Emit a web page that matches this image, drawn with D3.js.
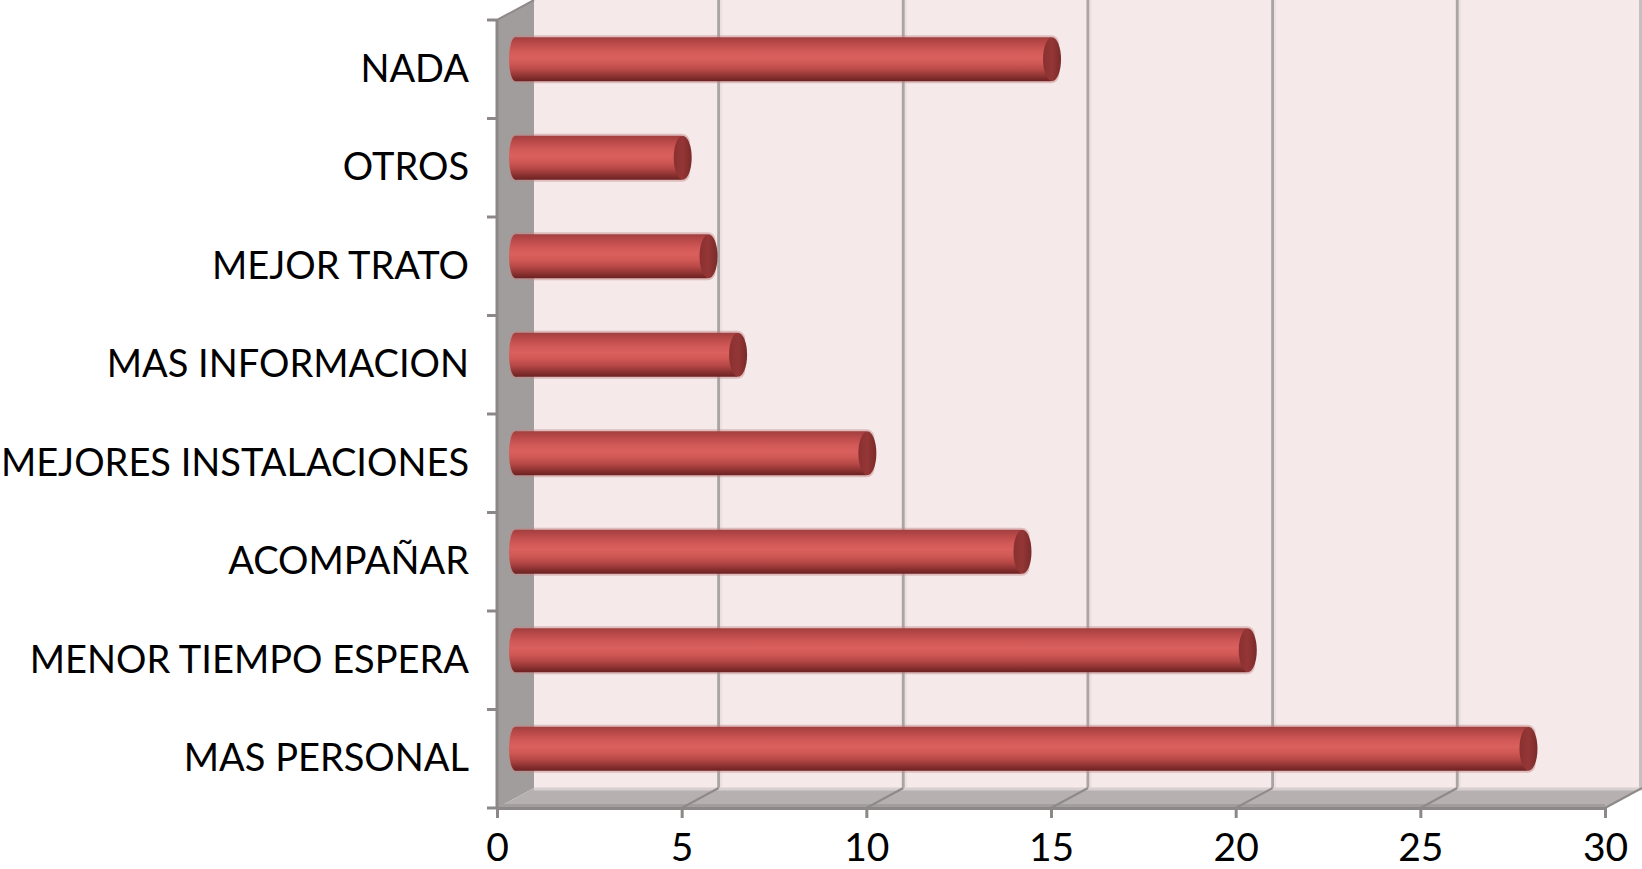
<!DOCTYPE html>
<html>
<head>
<meta charset="utf-8">
<script src="https://cdn.jsdelivr.net/npm/d3@7"></script>
<style>
  html, body { margin: 0; padding: 0; background: #ffffff; }
  svg { display: block; }
  text { font-family: Lato, "Open Sans", sans-serif; fill: #000; }
</style>
</head>
<body>
<svg id="chart" width="1642" height="869"></svg>
<script>
// ---- data ----
const categories = ["NADA", "OTROS", "MEJOR TRATO", "MAS INFORMACION",
  "MEJORES INSTALACIONES", "ACOMPAÑAR", "MENOR TIEMPO ESPERA", "MAS PERSONAL"];
const values = [14.5, 4.5, 5.2, 6.0, 9.5, 13.7, 19.8, 27.4];
const xTicks = [0, 5, 10, 15, 20, 25, 30];

// ---- layout ----
const DX = 37, DY = -20;           // 3D depth offset (front -> back)
const pLeft = 497, pRight = 1605, pTop = 20, pBottom = 808;

const svg = d3.select("#chart");
const x = d3.scaleLinear().domain([0, 30]).range([pLeft, pRight]);
const y = d3.scaleBand().domain(categories).range([pTop, pBottom]).padding(0);

const defs = svg.append("defs");
const grad = defs.append("linearGradient").attr("id", "cyl")
  .attr("x1", 0).attr("y1", 0).attr("x2", 0).attr("y2", 1);
[[0, "#a13f3f"], [0.12, "#b84848"], [0.3, "#d05856"], [0.45, "#d9605d"],
 [0.6, "#cf5754"], [0.75, "#b44745"], [0.88, "#8e3333"], [1, "#6c2121"]]
  .forEach(([o, c]) => grad.append("stop").attr("offset", o).attr("stop-color", c));
const capGrad = defs.append("linearGradient").attr("id", "cap")
  .attr("x1", 0).attr("y1", 0).attr("x2", 1).attr("y2", 0);
[[0, "#8a3030"], [0.5, "#943636"], [1, "#7a2a2a"]]
  .forEach(([o, c]) => capGrad.append("stop").attr("offset", o).attr("stop-color", c));

// back wall
svg.append("rect")
  .attr("x", pLeft + DX).attr("y", pTop + DY)
  .attr("width", pRight - pLeft).attr("height", pBottom - pTop)
  .attr("fill", "#f5e9e9");
svg.append("line")
  .attr("x1", pRight + DX - 1.5).attr("x2", pRight + DX - 1.5)
  .attr("y1", pTop + DY).attr("y2", pBottom + DY)
  .attr("stroke", "#c7bebe").attr("stroke-width", 3);

// back gridlines
const inner = xTicks.filter(v => v > 0 && v < 30);
svg.append("g").selectAll("line").data(inner).join("line")
  .attr("x1", d => x(d) + DX).attr("x2", d => x(d) + DX)
  .attr("y1", pTop + DY).attr("y2", pBottom + DY)
  .attr("stroke", "#aba4a4").attr("stroke-width", 3);
svg.append("g").selectAll("line").data(inner).join("line")
  .attr("x1", d => x(d) + DX + 2.5).attr("x2", d => x(d) + DX + 2.5)
  .attr("y1", pTop + DY).attr("y2", pBottom + DY)
  .attr("stroke", "#ebe0e0").attr("stroke-width", 2);

// side wall
svg.append("polygon")
  .attr("points", [[pLeft, pTop], [pLeft + DX, pTop + DY], [pLeft + DX, pBottom + DY], [pLeft, pBottom]].join(" "))
  .attr("fill", "#a29d9d");

// floor
svg.append("polygon")
  .attr("points", [[pLeft, pBottom], [pLeft + DX, pBottom + DY], [pRight + DX, pBottom + DY], [pRight, pBottom]].join(" "))
  .attr("fill", "#b6b0b0");
svg.append("line")
  .attr("x1", pLeft + DX).attr("x2", pRight + DX)
  .attr("y1", pBottom + DY + 1).attr("y2", pBottom + DY + 1)
  .attr("stroke", "#d8d0d0").attr("stroke-width", 3);
svg.append("line")
  .attr("x1", pLeft).attr("x2", pRight)
  .attr("y1", pBottom - 2.5).attr("y2", pBottom - 2.5)
  .attr("stroke", "#a39d9d").attr("stroke-width", 3);
svg.append("g").selectAll("line").data(inner.concat([30])).join("line")
  .attr("x1", d => x(d) + DX).attr("x2", d => x(d))
  .attr("y1", pBottom + DY).attr("y2", pBottom)
  .attr("stroke", "#8f8a8a").attr("stroke-width", 2);
svg.append("line")
  .attr("x1", pLeft).attr("y1", pTop).attr("x2", pLeft + DX).attr("y2", pTop + DY)
  .attr("stroke", "#8f8a8a").attr("stroke-width", 2);

// bars (cylinders at mid depth)
const barH = 44;
const mx = DX / 2, my = DY / 2;
const bars = svg.append("g").selectAll("g").data(categories).join("g")
  .attr("transform", c => `translate(0,${y(c) + y.bandwidth() / 2 + my})`);
bars.append("rect")
  .attr("x", x(0) + mx - 6).attr("y", -barH / 2 - 2)
  .attr("width", (c, i) => x(values[i]) - x(0) + 14).attr("height", barH + 4)
  .attr("rx", 8).attr("fill", "#c48686").attr("opacity", 0.45);
bars.append("ellipse")
  .attr("cx", x(0) + mx).attr("cy", 0).attr("rx", 6.5).attr("ry", barH / 2)
  .attr("fill", "url(#cyl)");
bars.append("rect")
  .attr("x", x(0) + mx).attr("y", -barH / 2)
  .attr("width", (c, i) => x(values[i]) - x(0)).attr("height", barH)
  .attr("fill", "url(#cyl)");
bars.append("ellipse")
  .attr("cx", (c, i) => x(values[i]) + mx + 1).attr("cy", 0)
  .attr("rx", 9).attr("ry", barH / 2)
  .attr("fill", "url(#cap)");

// front axes
const xAxis = d3.axisBottom(x).tickValues(xTicks).tickSize(10).tickPadding(15)
  .tickFormat(d3.format("d"));
const gx = svg.append("g").attr("transform", `translate(0,${pBottom})`).call(xAxis);
gx.select(".domain").attr("stroke", "#8c8888").attr("stroke-width", 3);
gx.selectAll(".tick line").attr("stroke", "#8c8888").attr("stroke-width", 3);
gx.selectAll(".tick text").attr("font-size", 39).attr("font-family", "Lato, sans-serif")
  .attr("dy", "0.71em");

const yAxis = d3.axisLeft(y).tickSize(0).tickPadding(28);
const gy = svg.append("g").attr("transform", `translate(${pLeft},0.5)`).call(yAxis);
gy.select(".domain").remove();
gy.selectAll(".tick text").attr("font-size", 38).attr("font-family", "Lato, sans-serif");

svg.append("line").attr("x1", pLeft).attr("x2", pLeft).attr("y1", pTop).attr("y2", pBottom)
  .attr("stroke", "#8c8888").attr("stroke-width", 3);
const bounds = categories.map(c => y(c)).concat([pBottom]);
svg.append("g").selectAll("line").data(bounds).join("line")
  .attr("x1", pLeft - 10).attr("x2", pLeft).attr("y1", d => d).attr("y2", d => d)
  .attr("stroke", "#8c8888").attr("stroke-width", 3);
</script>
</body>
</html>
